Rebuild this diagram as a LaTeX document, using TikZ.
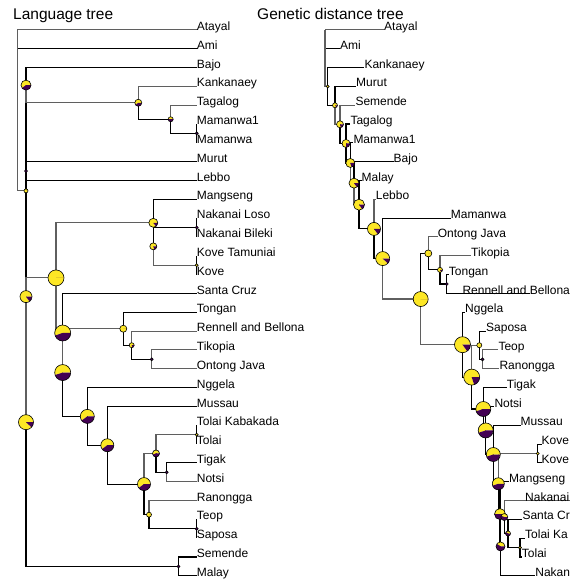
\documentclass[tikz,border=0pt]{standalone}
\usepackage{fontspec}
\setmainfont{Liberation Sans}
\definecolor{cyel}{HTML}{FDE725}
\definecolor{cpur}{HTML}{440154}
\definecolor{cgray}{RGB}{95,95,95}
\tikzset{
  edge/.style={draw=black, line width=1.1pt},
  gedge/.style={draw=cgray, line width=1.1pt},
  lab/.style={anchor=base west, inner sep=0pt, font=\fontsize{12}{14}\selectfont, yshift=-0.6pt},
  ttl/.style={anchor=base west, inner sep=0pt, font=\fontsize{15.5}{18}\selectfont},
  pieline/.style={draw=black, line width=0.6pt}
}
\newcommand\drawpie[3]{%
  \fill[cyel] (#1) -- ++(0:#2pt) arc[start angle=0,end angle={360*#3},radius=#2pt] -- cycle;
  \fill[cpur] (#1) -- ++({360*#3}:#2pt) arc[start angle={360*#3},end angle=360,radius=#2pt] -- cycle;
  \draw[pieline] (#1) circle[radius=#2pt];}
\begin{document}
\begin{tikzpicture}[x=1pt,y=-1pt]
\useasboundingbox (0,0) rectangle (570,582);
\clip (0,0) rectangle (570,582);
\fill[white] (0,0) rectangle (570,582);

\node[ttl] (t1) at (13,19.3) {Language tree};
\node[ttl] (t2) at (257,19.3) {Genetic distance tree};

% ---------------- left tree: tips
\coordinate (LAtayal) at (196.7,29.80);
\coordinate (LAmi) at (196.7,48.63);
\coordinate (LBajo) at (196.7,67.46);
\coordinate (LKank) at (196.7,86.29);
\coordinate (LTaga) at (196.7,105.12);
\coordinate (LMam1) at (196.7,123.95);
\coordinate (LMam) at (196.7,142.78);
\coordinate (LMurut) at (196.7,161.61);
\coordinate (LLebbo) at (196.7,180.44);
\coordinate (LMang) at (196.7,199.27);
\coordinate (LNakL) at (196.7,218.10);
\coordinate (LNakB) at (196.7,236.93);
\coordinate (LKoveT) at (196.7,255.76);
\coordinate (LKove) at (196.7,274.59);
\coordinate (LSanta) at (196.7,293.42);
\coordinate (LTongan) at (196.7,312.25);
\coordinate (LRenn) at (196.7,331.08);
\coordinate (LTiko) at (196.7,349.91);
\coordinate (LOntong) at (196.7,368.74);
\coordinate (LNgg) at (196.7,387.57);
\coordinate (LMuss) at (196.7,406.40);
\coordinate (LTolK) at (196.7,425.23);
\coordinate (LTolai) at (196.7,444.06);
\coordinate (LTigak) at (196.7,462.89);
\coordinate (LNotsi) at (196.7,481.72);
\coordinate (LRanon) at (196.7,500.55);
\coordinate (LTeop) at (196.7,519.38);
\coordinate (LSaposa) at (196.7,538.21);
\coordinate (LSem) at (196.7,557.04);
\coordinate (LMalay) at (196.7,575.87);
% left internal nodes
\coordinate (LR) at (17.3,29.8);
\coordinate (LA) at (26,190.86);
\coordinate (LBJ) at (26,85.1);
\coordinate (LK) at (138.3,102.77);
\coordinate (LK2) at (170.7,119.24);
\coordinate (LMM) at (196.7,133.37);
\coordinate (LX1) at (26,296.6);
\coordinate (LML) at (26,171.03);
\coordinate (LX2) at (26,422.18);
\coordinate (LB) at (56,277.9);
\coordinate (LC) at (153.3,222.81);
\coordinate (LC2) at (153.3,246.35);
\coordinate (LNK) at (196.7,227.52);
\coordinate (LKV) at (196.7,265.18);
\coordinate (LD) at (62.7,332.99);
\coordinate (LE) at (62.7,372.55);
\coordinate (LF) at (123.3,328.73);
\coordinate (LF2) at (131.7,345.2);
\coordinate (LF3) at (151.7,359.33);
\coordinate (LG) at (87.3,416.4);
\coordinate (LG2) at (107.3,445.24);
\coordinate (LG3) at (144,484.08);
\coordinate (LG4) at (156,453.48);
\coordinate (LTK) at (196.7,434.65);
\coordinate (LTN) at (166.7,472.31);
\coordinate (LG5) at (149,514.67);
\coordinate (LTS) at (196.7,528.8);
\coordinate (LH) at (178.5,566.46);

% left edges
\draw[gedge] (LR) |- (LAtayal);
\draw[edge] (LR) |- (LAmi);
\draw[gedge] (LR) |- (LA);
\draw[edge] (LA) |- (LBJ);
\draw[edge] (LA) |- (LX1);
\draw[edge] (LBJ) |- (LBajo);
\draw[gedge] (LBJ) |- (LK);
\draw[gedge] (LK) |- (LKank);
\draw[edge] (LK) |- (LK2);
\draw[gedge] (LK2) |- (LTaga);
\draw[edge] (LK2) |- (LMM);
\draw[edge] (LMM) |- (LMam1);
\draw[edge] (LMM) |- (LMam);
\draw[edge] (LX1) |- (LML);
\draw[edge] (LX1) |- (LX2);
\draw[edge] (LML) |- (LMurut);
\draw[edge] (LML) |- (LLebbo);
\draw[gedge] (LX2) |- (LB);
\draw[edge] (LX2) |- (LH);
\draw[gedge] (LB) |- (LC);
\draw[gedge] (LB) |- (LD);
\draw[edge] (LC) |- (LMang);
\draw[edge] (LC) |- (LC2);
\draw[edge] (LC2) |- (LNK);
\draw[gedge] (LC2) |- (LKV);
\draw[edge] (LNK) |- (LNakL);
\draw[edge] (LNK) |- (LNakB);
\draw[edge] (LKV) |- (LKoveT);
\draw[edge] (LKV) |- (LKove);
\draw[edge] (LD) |- (LSanta);
\draw[edge] (LD) |- (LE);
\draw[gedge] (LE) |- (LF);
\draw[edge] (LE) |- (LG);
\draw[edge] (LF) |- (LTongan);
\draw[edge] (LF) |- (LF2);
\draw[gedge] (LF2) |- (LRenn);
\draw[edge] (LF2) |- (LF3);
\draw[gedge] (LF3) |- (LTiko);
\draw[gedge] (LF3) |- (LOntong);
\draw[edge] (LG) |- (LNgg);
\draw[edge] (LG) |- (LG2);
\draw[edge] (LG2) |- (LMuss);
\draw[edge] (LG2) |- (LG3);
\draw[gedge] (LG3) |- (LG4);
\draw[edge] (LG3) |- (LG5);
\draw[gedge] (LG4) |- (LTK);
\draw[edge] (LG4) |- (LTN);
\draw[edge] (LTK) |- (LTolK);
\draw[edge] (LTK) |- (LTolai);
\draw[edge] (LTN) |- (LTigak);
\draw[gedge] (LTN) |- (LNotsi);
\draw[gedge] (LG5) |- (LRanon);
\draw[edge] (LG5) |- (LTS);
\draw[edge] (LTS) |- (LTeop);
\draw[edge] (LTS) |- (LSaposa);
\draw[edge] (LH) |- (LSem);
\draw[edge] (LH) |- (LMalay);

% left pies
\drawpie{LA}{2}{1}
\drawpie{LBJ}{5}{0.6}
\drawpie{LK}{3.5}{0.6}
\drawpie{LK2}{2.5}{0.5}
\drawpie{LMM}{1.5}{0}
\drawpie{LML}{1.5}{0}
\drawpie{LX1}{6}{0.85}
\drawpie{LX2}{7.5}{0.88}
\drawpie{LB}{8}{1}
\drawpie{LC}{4.5}{0.85}
\drawpie{LC2}{3.5}{0.8}
\drawpie{LNK}{1.5}{0}
\drawpie{LKV}{1.5}{1}
\drawpie{LD}{8}{0.55}
\drawpie{LE}{8}{0.55}
\drawpie{LF}{3.5}{1}
\drawpie{LF2}{2.5}{0.8}
\drawpie{LF3}{1.5}{0}
\drawpie{LG}{7}{0.6}
\drawpie{LG2}{6.5}{0.6}
\drawpie{LG3}{6.5}{0.6}
\drawpie{LG4}{3.5}{0.55}
\drawpie{LTK}{1.5}{1}
\drawpie{LTN}{1.5}{0}
\drawpie{LG5}{2.5}{1}
\drawpie{LTS}{1.5}{0}
\drawpie{LH}{1.5}{0}

% left labels
\node[lab] (lAtayal) at (LAtayal) {Atayal};
\node[lab] (lAmi) at (LAmi) {Ami};
\node[lab] (lBajo) at (LBajo) {Bajo};
\node[lab] (lKank) at (LKank) {Kankanaey};
\node[lab] (lTaga) at (LTaga) {Tagalog};
\node[lab] (lMam1) at (LMam1) {Mamanwa1};
\node[lab] (lMam) at (LMam) {Mamanwa};
\node[lab] (lMurut) at (LMurut) {Murut};
\node[lab] (lLebbo) at (LLebbo) {Lebbo};
\node[lab] (lMang) at (LMang) {Mangseng};
\node[lab] (lNakL) at (LNakL) {Nakanai Loso};
\node[lab] (lNakB) at (LNakB) {Nakanai Bileki};
\node[lab] (lKoveT) at (LKoveT) {Kove Tamuniai};
\node[lab] (lKove) at (LKove) {Kove};
\node[lab] (lSanta) at (LSanta) {Santa Cruz};
\node[lab] (lTongan) at (LTongan) {Tongan};
\node[lab] (lRenn) at (LRenn) {Rennell and Bellona};
\node[lab] (lTiko) at (LTiko) {Tikopia};
\node[lab] (lOntong) at (LOntong) {Ontong Java};
\node[lab] (lNgg) at (LNgg) {Nggela};
\node[lab] (lMuss) at (LMuss) {Mussau};
\node[lab] (lTolK) at (LTolK) {Tolai Kabakada};
\node[lab] (lTolai) at (LTolai) {Tolai};
\node[lab] (lTigak) at (LTigak) {Tigak};
\node[lab] (lNotsi) at (LNotsi) {Notsi};
\node[lab] (lRanon) at (LRanon) {Ranongga};
\node[lab] (lTeop) at (LTeop) {Teop};
\node[lab] (lSaposa) at (LSaposa) {Saposa};
\node[lab] (lSem) at (LSem) {Semende};
\node[lab] (lMalay) at (LMalay) {Malay};

% ---------------- right tree: tips
\coordinate (RAtayal) at (384,29.80);
\coordinate (RAmi) at (340,48.63);
\coordinate (RKank) at (364.3,67.46);
\coordinate (RMurut) at (356,86.29);
\coordinate (RSem) at (355.3,105.12);
\coordinate (RTaga) at (350.3,123.95);
\coordinate (RMam1) at (353.3,142.78);
\coordinate (RBajo) at (393.5,161.61);
\coordinate (RMalay) at (361.5,180.44);
\coordinate (RLebbo) at (375.7,199.27);
\coordinate (RMam) at (450.7,218.10);
\coordinate (ROntong) at (437.7,236.93);
\coordinate (RTiko) at (471,255.76);
\coordinate (RTongan) at (448.7,274.59);
\coordinate (RRenn) at (530,293.42);
\coordinate (RRennL) at (462.3,293.42);
\coordinate (RNgg) at (465,312.25);
\coordinate (RSaposa) at (486,331.08);
\coordinate (RTeop) at (498.3,349.91);
\coordinate (RRanon) at (499.3,368.74);
\coordinate (RTigak) at (506.7,387.57);
\coordinate (RNotsi) at (494.3,406.40);
\coordinate (RMuss) at (520.5,425.23);
\coordinate (RKoveT) at (541.5,444.06);
\coordinate (RKove) at (541.5,462.89);
\coordinate (RMang) at (509,481.72);
\coordinate (RNakU) at (585,500.55);
\coordinate (RNakUL) at (525,500.55);
\coordinate (RSanta) at (522.3,519.38);
\coordinate (RTolK) at (525,538.21);
\coordinate (RTolai) at (521.7,557.04);
\coordinate (RNakB) at (535.2,575.87);
% right internal nodes
\coordinate (RR) at (325,29.8);
\coordinate (RN1) at (327.7,86.38);
\coordinate (RN2) at (335,105.29);
\coordinate (RN3) at (340,124.29);
\coordinate (RN4) at (346,143.46);
\coordinate (RN5) at (350.3,162.96);
\coordinate (RN6) at (354,183.15);
\coordinate (RN7) at (359,204.68);
\coordinate (RN8) at (374,228.92);
\coordinate (RN9) at (382.7,258.57);
\coordinate (RN10) at (420.7,299.04);
\coordinate (RP) at (428.3,253.4);
\coordinate (RP2) at (440,269.88);
\coordinate (RP3) at (446.7,284.0);
\coordinate (RN11) at (462.5,344.68);
\coordinate (RS) at (479.3,345.2);
\coordinate (RS2) at (482.5,359.33);
\coordinate (RN12) at (471.7,377.1);
\coordinate (RN13) at (483.3,409.01);
\coordinate (RN14) at (485.7,430.45);
\coordinate (RN15) at (493.3,454.5);
\coordinate (RKP) at (537.7,453.48);
\coordinate (RN16) at (498.3,483.78);
\coordinate (RM) at (500,514.08);
\coordinate (RQ) at (500.5,546.45);
\coordinate (RNST) at (504.3,517.03);
\coordinate (RST) at (508,533.5);
\coordinate (RT) at (520,547.63);

% right edges
\draw[gedge] (RR) |- (RAtayal);
\draw[edge] (RR) |- (RAmi);
\draw[gedge] (RR) |- (RN1);
\draw[edge] (RN1) |- (RKank);
\draw[edge] (RN1) |- (RN2);
\draw[edge] (RN2) |- (RMurut);
\draw[gedge] (RN2) |- (RN3);
\draw[gedge] (RN3) |- (RSem);
\draw[edge] (RN3) |- (RN4);
\draw[edge] (RN4) |- (RTaga);
\draw[edge] (RN4) |- (RN5);
\draw[edge] (RN5) |- (RMam1);
\draw[gedge] (RN5) |- (RN6);
\draw[edge] (RN6) |- (RBajo);
\draw[gedge] (RN6) |- (RN7);
\draw[edge] (RN7) |- (RMalay);
\draw[edge] (RN7) |- (RN8);
\draw[gedge] (RN8) |- (RLebbo);
\draw[edge] (RN8) |- (RN9);
\draw[edge] (RN9) |- (RMam);
\draw[gedge] (RN9) |- (RN10);
\draw[edge] (RN10) |- (RP);
\draw[gedge] (RN10) |- (RN11);
\draw[gedge] (RP) |- (ROntong);
\draw[edge] (RP) |- (RP2);
\draw[gedge] (RP2) |- (RTiko);
\draw[edge] (RP2) |- (RP3);
\draw[edge] (RP3) |- (RTongan);
\draw[edge] (RP3) |- (RRenn);
\draw[edge] (RN11) |- (RNgg);
\draw[edge] (RN11) |- (RN12);
\draw[gedge] (RN12) |- (RS);
\draw[edge] (RN12) |- (RN13);
\draw[edge] (RS) |- (RSaposa);
\draw[edge] (RS) |- (RS2);
\draw[gedge] (RS2) |- (RTeop);
\draw[gedge] (RS2) |- (RRanon);
\draw[edge] (RN13) |- (RTigak);
\draw[edge] (RN13) |- (RN14);
\draw[edge] (RN14) |- (RNotsi);
\draw[edge] (RN14) |- (RN15);
\draw[edge] (RN15) |- (RMuss);
\draw[edge] (RN15) |- (RN16);
\draw[gedge] (RN16) |- (RKP);
\draw[edge] (RN16) |- (RM);
\draw[edge] (RKP) |- (RKoveT);
\draw[edge] (RKP) |- (RKove);
\draw[edge] (RM) |- (RMang);
\draw[edge] (RM) |- (RQ);
\draw[edge] (RQ) |- (RNST);
\draw[edge] (RQ) |- (RNakB);
\draw[gedge] (RNST) |- (RNakU);
\draw[edge] (RNST) |- (RST);
\draw[edge] (RST) |- (RSanta);
\draw[edge] (RST) |- (RT);
\draw[edge] (RT) |- (RTolK);
\draw[edge] (RT) |- (RTolai);

% right pies
\drawpie{RN1}{1.5}{1}
\drawpie{RN2}{2.5}{0.85}
\drawpie{RN3}{3.5}{0.8}
\drawpie{RN4}{4}{0.75}
\drawpie{RN5}{4.5}{0.8}
\drawpie{RN6}{5}{0.85}
\drawpie{RN7}{5.5}{0.85}
\drawpie{RN8}{6.5}{0.85}
\drawpie{RN9}{7}{0.88}
\drawpie{RN10}{7.5}{1}
\drawpie{RP}{3.5}{1}
\drawpie{RP2}{2.5}{0.85}
\drawpie{RP3}{1.5}{0}
\drawpie{RN11}{8}{0.85}
\drawpie{RS}{2.5}{1}
\drawpie{RS2}{1.5}{0}
\drawpie{RN12}{8}{0.8}
\drawpie{RN13}{7.5}{0.55}
\drawpie{RN14}{7.5}{0.55}
\drawpie{RN15}{7}{0.55}
\drawpie{RKP}{1.5}{1}
\drawpie{RN16}{6}{0.55}
\drawpie{RM}{5.5}{0.5}
\drawpie{RNST}{3.5}{0.45}
\drawpie{RST}{2.5}{0.4}
\drawpie{RT}{1.5}{1}
\drawpie{RQ}{4.5}{0.4}

% right labels (as much of each as the frame shows)
\node[lab] (rAtayal) at (RAtayal) {Atayal};
\node[lab] (rAmi) at (RAmi) {Ami};
\node[lab] (rKank) at (RKank) {Kankanaey};
\node[lab] (rMurut) at (RMurut) {Murut};
\node[lab] (rSem) at (RSem) {Semende};
\node[lab] (rTaga) at (RTaga) {Tagalog};
\node[lab] (rMam1) at (RMam1) {Mamanwa1};
\node[lab] (rBajo) at (RBajo) {Bajo};
\node[lab] (rMalay) at (RMalay) {Malay};
\node[lab] (rLebbo) at (RLebbo) {Lebbo};
\node[lab] (rMam) at (RMam) {Mamanwa};
\node[lab] (rOntong) at (ROntong) {Ontong Java};
\node[lab] (rTiko) at (RTiko) {Tikopia};
\node[lab] (rTongan) at (RTongan) {Tongan};
\node[lab] (rRenn) at (RRennL) {Rennell and Bellona};
\node[lab] (rNgg) at (RNgg) {Nggela};
\node[lab] (rSaposa) at (RSaposa) {Saposa};
\node[lab] (rTeop) at (RTeop) {Teop};
\node[lab] (rRanon) at (RRanon) {Ranongga};
\node[lab] (rTigak) at (RTigak) {Tigak};
\node[lab] (rNotsi) at (RNotsi) {Notsi};
\node[lab] (rMuss) at (RMuss) {Mussau};
\node[lab] (rKoveT) at (RKoveT) {Kove};
\node[lab] (rKove) at (RKove) {Kove};
\node[lab] (rMang) at (RMang) {Mangseng};
\node[lab] (rNakU) at (RNakUL) {Nakanai};
\node[lab] (rSanta) at (RSanta) {Santa Cr};
\node[lab] (rTolK) at (RTolK) {Tolai Ka};
\node[lab] (rTolai) at (RTolai) {Tolai};
\node[lab] (rNakB) at (RNakB) {Nakan};
\end{tikzpicture}
\end{document}
